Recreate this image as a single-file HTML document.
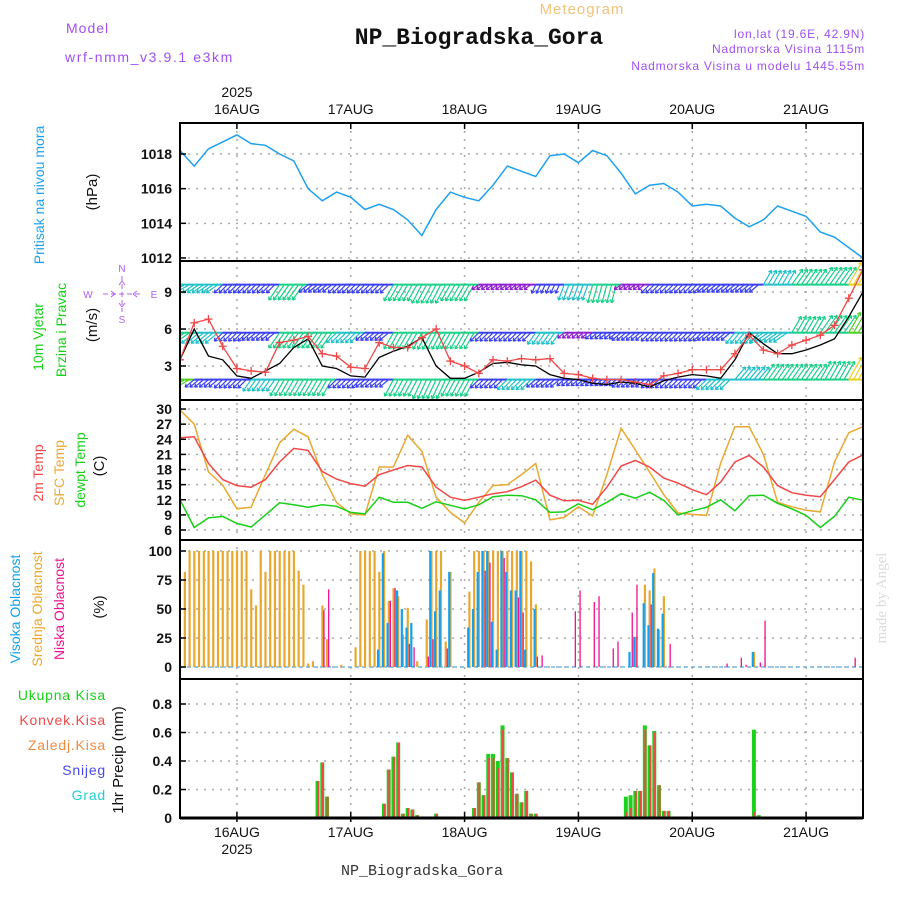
<!DOCTYPE html>
<html><head><meta charset="utf-8"><style>
body{margin:0;background:#fff}
svg{display:block}
text{font-family:"Liberation Sans",sans-serif}
</style></head><body>
<svg id="chart" width="900" height="900" viewBox="0 0 900 900" xmlns="http://www.w3.org/2000/svg">
<g id="hdr">
<text x="582" y="14" font-size="15" fill="#f2c27a" text-anchor="middle" letter-spacing="1">Meteogram</text>
<text x="479" y="44" style="font-family:'Liberation Mono',monospace;font-size:23px;font-weight:bold" fill="#111" text-anchor="middle">NP_Biogradska_Gora</text>
<text x="66" y="33" font-size="14" fill="#a050f0" letter-spacing="1">Model</text>
<text x="65" y="62" font-size="14" fill="#a050f0" letter-spacing="1.6">wrf-nmm_v3.9.1 e3km</text>
<text x="865" y="38" font-size="12" fill="#a050f0" text-anchor="end" letter-spacing="0.8">lon,lat (19.6E, 42.9N)</text>
<text x="865" y="53" font-size="12" fill="#a050f0" text-anchor="end" letter-spacing="0.8">Nadmorska Visina 1115m</text>
<text x="865" y="70" font-size="12" fill="#a050f0" text-anchor="end" letter-spacing="0.8">Nadmorska Visina u modelu 1445.55m</text>
<text x="422" y="875" style="font-family:'Liberation Mono',monospace;font-size:15px" fill="#333" text-anchor="middle">NP_Biogradska_Gora</text>
<text transform="translate(886,598) rotate(-90)" style="font-family:'Liberation Serif',serif;font-size:15px" fill="#d8ddd8" text-anchor="middle">made by Angel</text>
</g>
<g id="grid"></g>
<g id="marks"></g>
<g id="frame"></g>
<g id="labels"></g>
</svg>
<script>
// ---- data ----
const days = ["16AUG","17AUG","18AUG","19AUG","20AUG","21AUG"];
const pressTicks = [1012,1014,1016,1018];
const windTicks = [3,6,9];
const tempTicks = [6,9,12,15,18,21,24,27,30];
const cloudTicks = [0,25,50,75,100];
const precipTicks = [0,0.2,0.4,0.6,0.8];
// 3-hourly samples from 15AUG 12Z
const pressure = [1018.2,1017.3,1018.3,1018.7,1019.1,1018.6,1018.5,1018.0,1017.6,1016.0,1015.3,1015.8,1015.5,1014.8,1015.1,1014.8,1014.2,1013.3,1014.8,1015.8,1015.5,1015.3,1016.2,1017.3,1017.0,1016.7,1017.9,1018.0,1017.5,1018.2,1017.9,1016.9,1015.7,1016.2,1016.3,1015.8,1015.0,1015.1,1015.0,1014.3,1013.8,1014.2,1015.0,1014.7,1014.4,1013.5,1013.2,1012.6,1012.0];
const gust = [3.5,6.5,6.8,4.6,2.8,2.6,2.5,4.9,5.1,5.4,4.0,3.8,2.9,2.8,4.9,4.5,4.5,5.3,6.0,3.4,3.0,2.4,3.5,3.4,3.6,3.5,3.6,2.4,2.3,2.0,1.9,1.9,1.7,1.5,2.2,2.4,2.7,2.7,2.7,4.0,5.5,4.3,4.0,4.7,5.1,5.5,6.3,8.5,10.8];
const windSpeed = [3.5,6.0,3.8,3.5,2.2,2.0,2.6,3.2,4.5,5.2,3.0,2.8,2.2,2.1,3.7,4.2,4.6,5.3,3.0,2.0,2.0,2.5,3.2,3.3,3.1,3.0,2.3,2.0,1.9,1.6,1.5,1.7,1.6,1.3,1.8,2.1,2.3,2.2,2.0,3.5,5.7,4.8,4.0,4.0,4.3,4.7,5.2,7.0,9.0];
// 6-hourly wind arrows at three levels (speed, direction-to in screen degrees)
const row1Level = 9.6, row2Level = 5.7, row3Level = 1.9;
const row1Spd = [5,4,3,3,6,3,3,3,6,7,6,1.5,1.5,2,5,6,1.5,3,3,3,3,5,6,7,9];
const row1Dir = [150,145,135,135,125,140,135,135,120,118,120,145,145,115,110,105,145,135,135,140,140,300,305,305,300];
const row2Spd = [6,5,3,3,6,6,4,3,6,6,6,3,3,4,1.5,2,3,3,3,3,4,5,6,7,8];
const row2Dir = [145,140,135,140,125,125,135,140,120,118,120,135,135,125,140,140,140,135,135,140,130,145,300,305,300];
const row3Spd = [8,3,3,4,6,6,3,3,6,7,6,3,4,3,2,2,3,3,3,4,5,6,6,7,9];
const row3Dir = [150,140,135,125,120,120,135,140,118,115,118,135,135,140,140,140,140,135,135,135,310,305,305,300,300];
const t2m = [24.3,24.5,19.2,16.0,14.8,14.5,16.0,19.5,22.2,21.8,17.6,16.1,15.2,14.7,17.0,17.9,18.8,18.5,14.5,12.5,11.9,12.5,13.2,13.6,14.6,15.9,12.9,11.8,11.9,11.1,14.5,18.7,19.8,18.5,16.3,15.3,14.0,13.0,15.5,19.5,20.8,18.5,14.8,13.4,12.9,12.6,16.0,19.5,20.9];
const tSfc = [29.8,27.0,17.5,14.9,10.2,10.5,17.0,23.3,26.0,24.5,17.0,11.5,9.2,9.0,18.5,18.5,24.8,21.6,12.5,9.5,7.4,11.5,14.8,15.0,17.0,19.2,8.0,8.5,10.6,8.8,17.0,26.2,21.9,17.5,13.0,9.4,9.1,8.9,19.3,26.5,26.5,21.0,11.5,10.6,9.9,9.6,19.5,25.3,26.5];
const tDew = [12.0,6.5,8.4,8.7,7.3,6.6,9.0,11.4,11.0,10.5,11.0,10.7,9.5,9.2,12.5,11.5,11.5,10.3,11.6,10.9,10.2,11.0,12.6,12.9,12.8,12.0,9.5,9.6,11.2,10.0,11.5,13.2,12.3,13.5,11.9,9.0,9.8,10.5,12.0,9.8,12.8,12.9,11.3,10.2,8.9,6.5,8.7,12.5,11.9];
// hourly mid cloud (hours 0..144)
const midCloud = [0,82,100,100,100,100,100,100,100,100,100,100,100,100,100,67,53,100,82,100,100,100,100,100,100,83,71,3,5,0,53,24,0,0,2,0,0,17,100,100,100,100,82,100,57,68,61,28,51,0,5,0,41,100,100,100,22,82,0,0,0,65,100,100,100,100,100,100,100,100,100,100,100,100,91,54,0,0,0,0,0,0,0,0,0,0,0,0,0,0,0,0,0,0,0,0,26,0,71,66,85,32,61,0,0,0,0,0,0,0,0,0,0,0,0,0,0,0,0,0,0,13,0,0,0,0,0,0,0,0,0,0,0,0,0,0,0,0,0,0,0,0,0];
// sparse [hour, %] for high and low cloud
const highCloud = [[42,15],[43,98],[44,38],[46,66],[47,50],[48,34],[49,38],[53,100],[54,48],[55,66],[57,82],[61,34],[62,50],[63,82],[64,100],[65,100],[66,39],[67,15],[68,100],[69,82],[70,66],[71,66],[72,100],[73,15],[75,50],[95,13],[96,26],[98,55],[99,36],[100,81],[101,33],[102,46],[121,13]];
const lowCloud = [[30,49],[31,67],[44,57],[45,68],[48,20],[49,17],[52,9],[53,24],[56,16],[64,83],[65,90],[68,94],[71,60],[72,47],[75,9],[76,10],[83,48],[84,66],[87,56],[88,61],[91,16],[92,22],[95,47],[96,71],[99,54],[103,20],[115,3],[118,8],[119,2],[122,4],[123,40],[142,8]];
// sparse [hour, mm]
const totalPrecip = [[29,0.26],[30,0.39],[31,0.15],[43,0.10],[44,0.34],[45,0.43],[46,0.53],[47,0.03],[48,0.07],[49,0.06],[50,0.02],[52,0.01],[54,0.03],[62,0.07],[63,0.25],[64,0.16],[65,0.45],[66,0.45],[67,0.40],[68,0.65],[69,0.42],[70,0.32],[71,0.17],[72,0.11],[73,0.19],[74,0.03],[75,0.03],[76,0.01],[86,0.01],[87,0.01],[88,0.01],[94,0.15],[95,0.16],[96,0.19],[97,0.19],[98,0.65],[99,0.51],[100,0.61],[101,0.23],[102,0.05],[103,0.05],[121,0.62],[122,0.02]];
const convPrecip = [[29,0.26],[30,0.39],[31,0.15],[43,0.10],[44,0.34],[45,0.43],[46,0.53],[47,0.03],[48,0.07],[49,0.06],[50,0.02],[52,0.01],[54,0.03],[62,0.07],[63,0.25],[64,0.16],[65,0.42],[66,0.42],[67,0.35],[68,0.62],[69,0.42],[70,0.32],[71,0.17],[72,0.11],[73,0.19],[74,0.03],[75,0.03],[94,0.04],[95,0.07],[96,0.19],[97,0.19],[98,0.62],[99,0.51],[100,0.60],[101,0.23],[102,0.05],[103,0.05],[121,0.04]];

// ---- scales ----
const X0=180, X1=863;
const P={top:123,bot:261}, W={top:261,bot:400}, T={top:400,bot:540}, C={top:540,bot:679}, R={top:679,bot:818};
const xT = h => X0 + h*(X1-X0)/144;
const yP = v => 154 + (1018-v)*17.33;
const yW = v => 366 - (v-3)*12.33;
const yTm = v => 530 - (v-6)*5.04;
const yC = v => 667 - v*1.16;
const yR = v => 818 - v*142.5;
const NS="http://www.w3.org/2000/svg";
function mk(tag, parent, attrs){const e=document.createElementNS(NS,tag);for(const k in attrs)e.setAttribute(k,attrs[k]);parent.appendChild(e);return e;}
const grid=document.getElementById('grid'), marks=document.getElementById('marks'), frame=document.getElementById('frame'), labels=document.getElementById('labels');

days.forEach((d,i)=>{
  const x=xT(12+24*i);
  const gl=mk('line',grid,{x1:x,x2:x,y1:123,y2:818,stroke:'#aaa','stroke-width':1.5,'stroke-dasharray':'2 6'});
  
  
  const tt=mk('text',labels,{x:x,y:114,'font-size':14,'text-anchor':'middle',fill:'#111'});
  tt.textContent=d;
  
  
  const bt=mk('text',labels,{x:x,y:837,'font-size':14,'text-anchor':'middle',fill:'#111'});
  bt.textContent=d;
  
  
});
[[237,97],[237,854]].forEach(p=>{const e=mk('text',labels,{x:p[0],y:p[1],'font-size':14,'text-anchor':'middle',fill:'#111'});e.textContent='2025';

});
function hTicks(ticks,yf,panel,fmt,name){
  ticks.forEach(v=>{const y=yf(v);
    if(y>panel.top+2&&y<panel.bot-1){const g=mk('line',grid,{x1:X0,x2:X1,y1:y,y2:y,stroke:'#aaa','stroke-width':1.5,'stroke-dasharray':'2 6'});
    
    }
    mk('line',frame,{x1:X0,x2:X0+6,y1:y,y2:y,stroke:'#000','stroke-width':1.5});
    const t=mk('text',labels,{x:172,y:y+5,'font-size':14,'text-anchor':'end',fill:'#111','font-weight':'bold'});
    t.textContent=fmt(v);
    
    
  });
}
hTicks(pressTicks,yP,P,v=>v,'pressure');
hTicks(windTicks,yW,W,v=>v,'wind');
hTicks(tempTicks,yTm,T,v=>v,'temp');
hTicks(cloudTicks,yC,C,v=>v,'cloud');
hTicks(precipTicks,yR,R,v=>v===0?'0':v.toFixed(1),'precip');

function poly(arr,xf,yf,color,name,w){
  const pts=arr.map((v,i)=>xf(i).toFixed(1)+','+yf(v).toFixed(1)).join(' ');
  const e=mk('polyline',marks,{points:pts,fill:'none',stroke:color,'stroke-width':w||1.5});
  
  
  return e;
}
const x3 = i => xT(i*3);
const clipP=mk('clipPath',marks,{id:'clipP'});mk('rect',clipP,{x:X0,y:P.top,width:X1-X0,height:P.bot-P.top});
poly(pressure,x3,yP,'#1ea0f0','pressure-line').setAttribute('clip-path','url(#clipP)');
const clipW=mk('clipPath',marks,{id:'clipW'});mk('rect',clipW,{x:X0,y:W.top,width:X1-X0,height:W.bot-W.top});
function spdColor(s){return s<2?'#9020d0':s<4?'#3a40f0':s<5.5?'#20c0c8':s<7.5?'#18d088':s<9?'#50d020':'#e8d020';}
function windRow(spd,dir,level,name){
  const y0=yW(level);
  for(let h=0;h<=144;h++){
    const k=Math.min(24,Math.round(h/6));
    const s=spd[k], a=dir[k]*Math.PI/180, L=5+s*2.3, x=xT(h), col=spdColor(s);
    const x2=x+L*Math.cos(a), y2=y0+L*Math.sin(a);
    const hx=Math.cos(a), hy=Math.sin(a);
    const d=`M${x},${y0}L${x2},${y2}M${x2},${y2}l${(-3*hx+2*hy).toFixed(1)},${(-3*hy-2*hx).toFixed(1)}M${x2},${y2}l${(-3*hx-2*hy).toFixed(1)},${(-3*hy+2*hx).toFixed(1)}`;
    const ln=mk('path',marks,{d:d,stroke:col,'stroke-width':1.2,fill:'none','clip-path':'url(#clipW)'});
    
    
    if(h<144){const b=mk('line',marks,{x1:x,y1:y0,x2:xT(h+1),y2:y0,stroke:col,'stroke-width':2});
    
    }
  }
}
windRow(row1Spd,row1Dir,row1Level,'wind-row-upper');
windRow(row2Spd,row2Dir,row2Level,'wind-row-middle');
windRow(row3Spd,row3Dir,row3Level,'wind-row-lower');
poly(windSpeed,x3,yW,'#000','wind-speed-line',1.3).setAttribute('clip-path','url(#clipW)');
poly(gust,x3,yW,'#f04848','wind-gust-line',1.3).setAttribute('clip-path','url(#clipW)');
gust.forEach((v,i)=>{const x=x3(i),y=yW(v);
  const p=mk('path',marks,{d:`M${x-4},${y}H${x+4}M${x},${y-4}V${y+4}`,stroke:'#f04848','stroke-width':1.3,'clip-path':'url(#clipW)'});
  
  
});
poly(tSfc,x3,yTm,'#eaa830','sfc-temp-line');
poly(t2m,x3,yTm,'#f04848','2m-temp-line');
poly(tDew,x3,yTm,'#18d018','dewpoint-line');
const base=mk('line',marks,{x1:X0,x2:X1,y1:yC(0),y2:yC(0),stroke:'#70b8e8','stroke-width':1.5,'stroke-dasharray':'4 3'});


midCloud.forEach((v,h)=>{if(v<=0)return;const x=xT(h);
  const r=mk('rect',marks,{x:x-1,y:yC(v),width:2.2,height:yC(0)-yC(v),fill:'#e8a830'});
  
  });
highCloud.forEach(p=>{const x=xT(p[0]);
  const r=mk('rect',marks,{x:x-2.2,y:yC(p[1]),width:2.2,height:yC(0)-yC(p[1]),fill:'#12a0f0'});
  
  });
lowCloud.forEach(p=>{const x=xT(p[0]);
  const r=mk('rect',marks,{x:x+1,y:yC(p[1]),width:1.3,height:yC(0)-yC(p[1]),fill:'#f01090'});
  
  });
totalPrecip.forEach(p=>{const x=xT(p[0]);
  const r=mk('rect',marks,{x:x-2,y:yR(p[1]),width:4,height:yR(0)-yR(p[1]),fill:'#1ed01e'});
  
  });
convPrecip.forEach(p=>{const x=xT(p[0]);
  const r=mk('rect',marks,{x:x-0.5,y:yR(p[1]),width:2,height:yR(0)-yR(p[1]),fill:'#f04848'});
  
  });
mk('rect',frame,{x:X0,y:P.top,width:X1-X0,height:R.bot-P.top,fill:'none',stroke:'#000','stroke-width':2});
[W.top,T.top,C.top,R.top].forEach(y=>mk('line',frame,{x1:X0,x2:X1,y1:y,y2:y,stroke:'#000','stroke-width':2}));
mk('line',frame,{x1:X0,x2:X1,y1:818,y2:818,stroke:'#000','stroke-width':3});
days.forEach((d,i)=>{const x=xT(12+24*i);
  mk('line',frame,{x1:x,x2:x,y1:P.top,y2:P.top+6,stroke:'#000','stroke-width':1.5});
  mk('line',frame,{x1:x,x2:x,y1:R.bot-6,y2:R.bot+4,stroke:'#000','stroke-width':1.5});});
function vlab(x,y,txt,col,name,size){const e=mk('text',labels,{transform:`translate(${x},${y}) rotate(-90)`,'font-size':size||14,'text-anchor':'middle',fill:col});e.textContent=txt;

}
vlab(44,195,'Pritisak na nivou mora','#1ea0f0','pressure-title');
vlab(97,192,'(hPa)','#111','pressure-unit',15);
vlab(43,337,'10m Vjetar','#18d018','wind-title-1');
vlab(66,330,'Brzina i Pravac','#18d018','wind-title-2');
vlab(97,325,'(m/s)','#111','wind-unit',15);
vlab(43,473,'2m Temp','#f04848','temp-2m-title');
vlab(64,473,'SFC Temp','#eaa830','temp-sfc-title');
vlab(85,470,'dewpt Temp','#18d018','temp-dew-title');
vlab(104,466,'(C)','#111','temp-unit',15);
vlab(20,609,'Visoka Oblacnost','#12a0f0','high-cloud-title');
vlab(42,609,'Srednja Oblacnost','#eaa830','mid-cloud-title');
vlab(64,609,'Niska Oblacnost','#f01090','low-cloud-title');
vlab(104,607,'(%)','#111','cloud-unit',15);
vlab(123,760,'1hr Precip (mm)','#111','precip-title',15);
[['Ukupna  Kisa','#18d018',700],['Konvek.Kisa','#f04848',725],['Zaledj.Kisa','#f08a40',750],['Snijeg','#4848f0',775],['Grad','#20d0d0',800]].forEach(l=>{
  const e=mk('text',labels,{x:106,y:l[2],'font-size':14,'text-anchor':'end',fill:l[1],'letter-spacing':0.8});e.textContent=l[0];
  
  });
const cp=mk('g',labels,{stroke:'#b060f0',fill:'none','stroke-width':1});


mk('path',cp,{d:'M103,294H141M122,276V312M115,294l-4,-3M115,294l-4,3M133,294l4,-3M133,294l4,3M122,281l-3,4M122,281l3,4M122,307l-3,-4M122,307l3,-4','stroke-dasharray':'5 3'});
[['W',88,298],['E',154,298],['N',122,272],['S',122,323]].forEach(c=>{const e=mk('text',labels,{x:c[1],y:c[2],'font-size':10,'text-anchor':'middle',fill:'#b060f0'});e.textContent=c[0];

});
</script>
</body></html>
